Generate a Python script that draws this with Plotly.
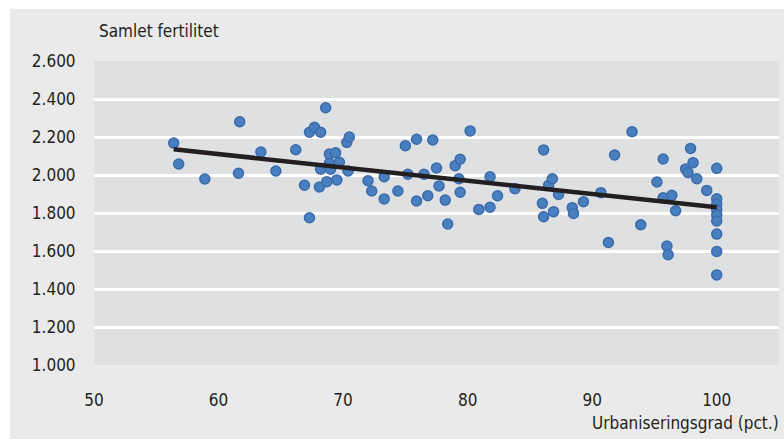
import plotly.graph_objects as go

# Scatter data: urbanisation degree (pct.) and total fertility (per 1000 women)
urban = [56.4, 56.8, 58.9, 61.7, 61.6, 63.4, 64.6, 66.2, 66.9, 67.3,
         67.3, 67.7, 68.2, 68.6, 68.1, 68.2, 68.9, 69.4, 68.9, 69.7,
         69.0, 70.4, 68.7, 69.5, 70.3, 70.5, 72.0, 72.3, 73.3, 73.3,
         74.4, 75.0, 75.2, 75.9, 75.9, 76.5, 76.8, 77.2, 77.5, 77.7,
         78.2, 78.4, 79.0, 79.4, 79.3, 79.4, 80.2, 80.9, 81.8, 81.8,
         82.4, 83.8, 86.1, 86.0, 86.1, 86.5, 86.8, 86.9, 87.3, 88.4,
         88.5, 89.3, 90.7, 91.3, 91.8, 93.2, 93.9, 95.2, 95.7, 95.7,
         96.0, 96.1, 96.4, 96.7, 97.5, 97.7, 97.9, 98.1, 98.4, 99.2,
         100, 100, 100, 100, 100, 100, 100, 100, 100]
fertility = [2168, 2058, 1979, 2280, 2009, 2121, 2021, 2133, 1946, 1775,
             2225, 2251, 2225, 2354, 1937, 2030, 2110, 2117, 2062, 2067,
             2030, 2021, 1965, 1974, 2172, 2200, 1970, 1916, 1991, 1874,
             1916, 2154, 2004, 2188, 1863, 2004, 1891, 2184, 2037, 1942,
             1868, 1742, 2049, 2083, 1980, 1909, 2232, 1819, 1991, 1830,
             1891, 1928, 2132, 1851, 1780, 1946, 1980, 1807, 1898, 1828,
             1798, 1859, 1907, 1645, 2105, 2228, 1738, 1963, 2084, 1880,
             1626, 1580, 1893, 1812, 2032, 2012, 2140, 2065, 1980, 1919,
             2035, 1875, 1847, 1818, 1789, 1758, 1689, 1598, 1474]

# Trend line end points
trend_x = [56.4, 100]
trend_y = [2135, 1830]

x_ticks = [50, 60, 70, 80, 90, 100]
y_ticks = [1000, 1200, 1400, 1600, 1800, 2000, 2200, 2400, 2600]

FONT = "Liberation Sans Narrow, DejaVu Sans Condensed, Arial Narrow, sans-serif"

fig = go.Figure()
fig.add_trace(go.Scatter(
    x=urban, y=fertility, mode="markers",
    marker=dict(size=10, color="#4A7FBF", line=dict(width=1.5, color="#3A6CAB")),
    hoverinfo="x+y", showlegend=False))
fig.add_trace(go.Scatter(
    x=trend_x, y=trend_y, mode="lines",
    line=dict(color="#231F20", width=4.5), showlegend=False))

W, H = 784, 439
L, R, T, B = 94, 5, 61, 74
pw = W - L - R
ph = H - T - B

def px(xp):
    return (xp - L) / pw

def py(yp):
    return (H - B - yp) / ph

fig.update_layout(
    width=W, height=H,
    margin=dict(l=L, r=R, t=T, b=B, pad=0),
    paper_bgcolor="#EAEAEB",
    plot_bgcolor="#DFE0E2",
    separators=",.",
    font=dict(family=FONT, size=17, color="#231F20"),
    xaxis=dict(range=[50, 105], tickvals=x_ticks, showgrid=False, zeroline=False,
               showline=False, ticks="outside", ticklen=20, tickcolor="rgba(0,0,0,0)",
               tickfont=dict(size=17)),
    yaxis=dict(range=[1000, 2600], tickvals=y_ticks, tickformat=",d", showgrid=True,
               gridcolor="#FFFFFF", gridwidth=2.5, zeroline=False, showline=False,
               ticks="outside", ticklen=14, tickcolor="rgba(0,0,0,0)",
               tickfont=dict(size=17)),
    shapes=[
        dict(type="rect", xref="paper", yref="paper", x0=px(0), x1=px(W), y0=py(9), y1=py(0),
             fillcolor="#FFFFFF", line=dict(width=0), layer="below"),
        dict(type="rect", xref="paper", yref="paper", x0=px(0), x1=px(10), y0=py(H), y1=py(0),
             fillcolor="#FFFFFF", line=dict(width=0), layer="below"),
    ],
    annotations=[
        dict(text="Samlet fertilitet", xref="paper", yref="paper", x=px(97), y=py(31),
             xanchor="left", yanchor="middle", showarrow=False, font=dict(size=17)),
        dict(text="Urbaniseringsgrad (pct.)", xref="paper", yref="paper", x=px(781), y=py(423),
             xanchor="right", yanchor="middle", showarrow=False, font=dict(size=17)),
    ],
)

fig.write_html(
    "out.html",
    config={"displayModeBar": False},
    post_script="document.body.style.margin='0px';document.body.style.overflow='hidden';",
)
